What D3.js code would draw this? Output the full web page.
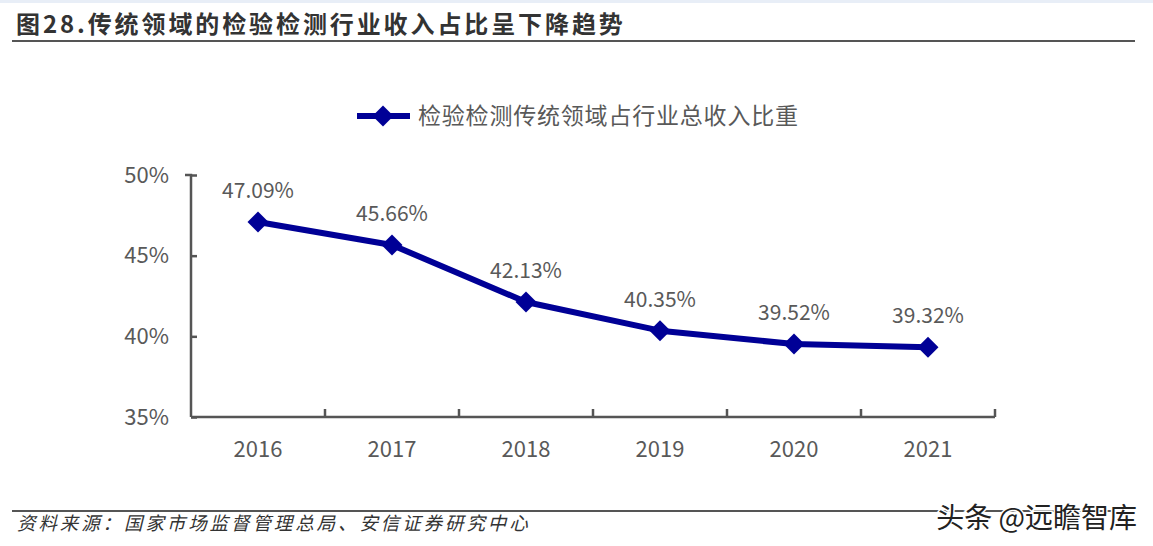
<!DOCTYPE html>
<html><head><meta charset="utf-8">
<script src="https://cdn.jsdelivr.net/npm/d3@7"></script>
<style>body{margin:0;background:#fff;} svg{display:block;}</style>
</head><body>
<svg id="c" width="1153" height="546"></svg>
<script>
const years = ["2016","2017","2018","2019","2020","2021"];
const shares = [47.09, 45.66, 42.13, 40.35, 39.52, 39.32];
const yTicks = [35, 40, 45, 50];
const titleText = "图28.传统领域的检验检测行业收入占比呈下降趋势";
const legendText = "检验检测传统领域占行业总收入比重";
const sourceText = "资料来源：国家市场监督管理总局、安信证券研究中心";
const watermark = "头条 @远瞻智库";

const svg = d3.select("#c");
const font = "'Noto Sans CJK SC', 'Noto Sans', sans-serif";
const navy = "#000096";
const grey = "#595959";

// top light strip
svg.append("rect").attr("x",0).attr("y",0).attr("width",1153).attr("height",3).attr("fill","#e8eef7");

// title
svg.append("text").attr("x",16).attr("y",33).attr("font-family",font).attr("font-size",24)
  .attr("font-weight","bold").attr("letter-spacing",2.9).attr("fill","#333").text(titleText);
svg.append("line").attr("x1",12).attr("x2",1135).attr("y1",41).attr("y2",41)
  .attr("stroke","#555").attr("stroke-width",2);

const x = d3.scaleBand().domain(years).range([191, 995]);
const y = d3.scaleLinear().domain([35, 50]).range([417, 175]);

// y axis
const yAxis = svg.append("g").attr("transform","translate(191,0)")
  .call(d3.axisLeft(y).tickValues(yTicks).tickFormat(d => d + "%").tickSize(6).tickPadding(16));
yAxis.select(".domain").attr("stroke","#555").attr("stroke-width",2.5).attr("d","M-6,175H0V417");
yAxis.selectAll(".tick line").attr("stroke","#555").attr("stroke-width",2.5).attr("x2",6).attr("x1",0);
yAxis.selectAll(".tick text").attr("font-family",font).attr("font-size",22).attr("fill",grey);

// x axis
const xAxis = svg.append("g").attr("transform","translate(0,417)")
  .call(d3.axisBottom(x).tickSize(0).tickPadding(24));
xAxis.select(".domain").attr("stroke","#555").attr("stroke-width",2.5).attr("d","M191,0H995");
xAxis.selectAll(".tick text").attr("font-family",font).attr("font-size",22).attr("fill",grey);
// band boundary ticks
const bounds = years.map(d => x(d)).concat([x(years[years.length-1]) + x.bandwidth()]).slice(1);
svg.append("g").selectAll("line").data(bounds).join("line")
  .attr("x1",d=>d).attr("x2",d=>d).attr("y1",417).attr("y2",409)
  .attr("stroke","#555").attr("stroke-width",2.5);

// line
const cx = d => x(d) + x.bandwidth()/2;
const data = years.map((yr,i)=>({yr, v:shares[i]}));
svg.append("path").datum(data)
  .attr("d", d3.line().x(d=>cx(d.yr)).y(d=>y(d.v)))
  .attr("fill","none").attr("stroke",navy).attr("stroke-width",6).attr("stroke-linejoin","round");

const diamond = d3.symbol().type(d3.symbolDiamond2).size(280);
svg.append("g").selectAll("path").data(data).join("path")
  .attr("d", diamond).attr("transform", d=>`translate(${cx(d.yr)},${y(d.v)})`).attr("fill",navy);

svg.append("g").selectAll("text").data(data).join("text")
  .attr("x", d=>cx(d.yr)).attr("y", d=>y(d.v)-24).attr("text-anchor","middle")
  .attr("font-family",font).attr("font-size",21).attr("fill",grey)
  .text(d=>d.v.toFixed(2)+"%");

// legend
svg.append("line").attr("x1",357).attr("x2",410).attr("y1",116).attr("y2",116)
  .attr("stroke",navy).attr("stroke-width",6);
svg.append("path").attr("d",diamond).attr("transform","translate(383,116)").attr("fill",navy);
svg.append("text").attr("x",418).attr("y",124).attr("font-family",font).attr("font-size",23)
  .attr("letter-spacing",0.8).attr("fill",grey).text(legendText);

// footer
svg.append("line").attr("x1",12).attr("x2",1135).attr("y1",511).attr("y2",511)
  .attr("stroke","#555").attr("stroke-width",2);
svg.append("text").attr("x",17).attr("y",530).attr("font-family",font).attr("font-size",18.5)
  .attr("font-style","italic").attr("letter-spacing",2.9).attr("fill","#333").text(sourceText);
svg.append("text").attr("x",1137).attr("y",528).attr("text-anchor","end").attr("font-family",font)
  .attr("font-size",28).attr("fill","#222").attr("stroke","#fff").attr("stroke-width",3)
  .attr("paint-order","stroke").text(watermark);
</script>
</body></html>
